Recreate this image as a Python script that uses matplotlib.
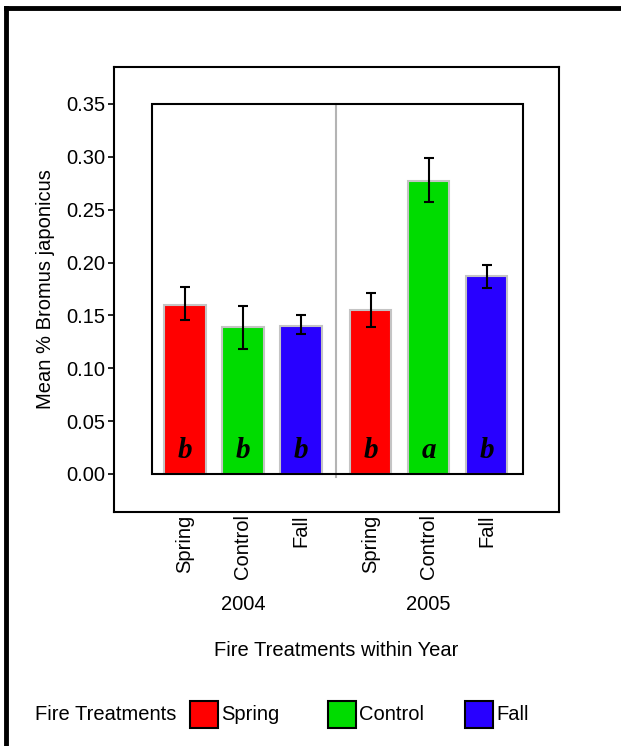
import numpy as np
import matplotlib
matplotlib.use("Agg")
import matplotlib.pyplot as plt
from matplotlib.patches import Rectangle
from matplotlib.lines import Line2D
import matplotlib.transforms as mtransforms

# Data
years = ["2004", "2005"]
treatments = ["Spring", "Control", "Fall"]
means = [0.160, 0.139, 0.140, 0.155, 0.277, 0.187]
err_low = [0.146, 0.118, 0.132, 0.139, 0.257, 0.176]
err_high = [0.177, 0.159, 0.150, 0.171, 0.299, 0.198]
letters = ["b", "b", "b", "b", "a", "b"]
colors = ["#ff0000", "#00dc00", "#2800ff"]

plt.rcParams["font.family"] = ["Liberation Sans", "DejaVu Sans"]
fs = 14.5

fig = plt.figure(figsize=(6.21, 7.46), dpi=100)
ax = fig.add_axes([114 / 621, 1 - 511.7 / 746, 445 / 621, 444.7 / 746])

# bar positions: two groups of three, with a small extra gap between years
gap = 0.2
pos = []
for g in range(len(years)):
    for t in range(len(treatments)):
        pos.append(g * (len(treatments) + gap) + t)
pos = np.array(pos)
bar_colors = [colors[i % 3] for i in range(len(means))]

means_a = np.array(means)
yerr = np.vstack([means_a - np.array(err_low), np.array(err_high) - means_a])

ax.bar(pos, means, width=0.72, color=bar_colors, edgecolor="#c4c4c4",
       linewidth=1.5, zorder=2)
ax.errorbar(pos, means, yerr=yerr, fmt="none", ecolor="black", elinewidth=1.5,
            capsize=3.5, capthick=1.5, zorder=3)

for x, letter in zip(pos, letters):
    ax.text(x, 0.015, letter, ha="center", va="baseline", fontsize=21,
            family="Liberation Serif", weight="bold", style="italic", zorder=4)

# inner frame and year divider
x_lo, x_hi = pos[0] - 0.57, pos[-1] + 0.63
ax.add_patch(Rectangle((x_lo, 0), x_hi - x_lo, 0.35, fill=False,
                       edgecolor="black", linewidth=1.5, zorder=5))
div = (pos[2] + pos[3]) / 2
ax.plot([div, div], [-0.003, 0.35], color="#b4b4b4", lw=1.5, zorder=1)

ax.set_xlim(pos[0] - 1.224, pos[-1] + 1.25)
ax.set_ylim(-0.0357, 0.385)
for s in ax.spines.values():
    s.set_linewidth(1.5)

ax.set_yticks(np.arange(0, 0.36, 0.05))
ax.set_yticklabels([f"{v:.2f}" for v in np.arange(0, 0.36, 0.05)], fontsize=fs)
ax.tick_params(axis="y", direction="out", length=4, width=1.2, pad=2)

ax.set_xticks(pos)
ax.set_xticklabels(treatments * len(years), rotation=90, fontsize=fs,
                   va="top", ha="center")
ax.tick_params(axis="x", length=0, pad=2)

trans = mtransforms.blended_transform_factory(ax.transData, ax.transAxes)
for g, year in enumerate(years):
    ax.text(pos[g * 3 + 1], -0.2076, year, transform=trans, ha="center",
            va="center", fontsize=fs)

fig.text(336.5 / 621, 1 - 650 / 746, "Fire Treatments within Year",
         ha="center", va="center", fontsize=fs)
fig.text(46 / 621, 1 - 289 / 746, "Mean % Bromus japonicus", rotation=90,
         ha="center", va="center", fontsize=fs)

# legend row at the bottom
ly = 1 - 714 / 746
fig.text(35 / 621, ly, "Fire Treatments", ha="left", va="center", fontsize=fs)
patch_x = [190, 328, 465]
pw, ph = 28, 27
for px, c, name in zip(patch_x, colors, treatments):
    fig.add_artist(Rectangle((px / 621, ly - ph / 2 / 746), pw / 621, ph / 746,
                             facecolor=c, edgecolor="black", linewidth=1.5,
                             transform=fig.transFigure))
    fig.text((px + pw + 3) / 621, ly, name, ha="left", va="center", fontsize=fs)

# page border (left and top)
fig.add_artist(Line2D([6 / 621, 6 / 621], [0, 1 - 8 / 746], color="black",
                      lw=3.5, transform=fig.transFigure, solid_capstyle="projecting"))
fig.add_artist(Line2D([6 / 621, 1], [1 - 8 / 746, 1 - 8 / 746], color="black",
                      lw=3.5, transform=fig.transFigure, solid_capstyle="projecting"))

fig.savefig("out.png", dpi=100)
